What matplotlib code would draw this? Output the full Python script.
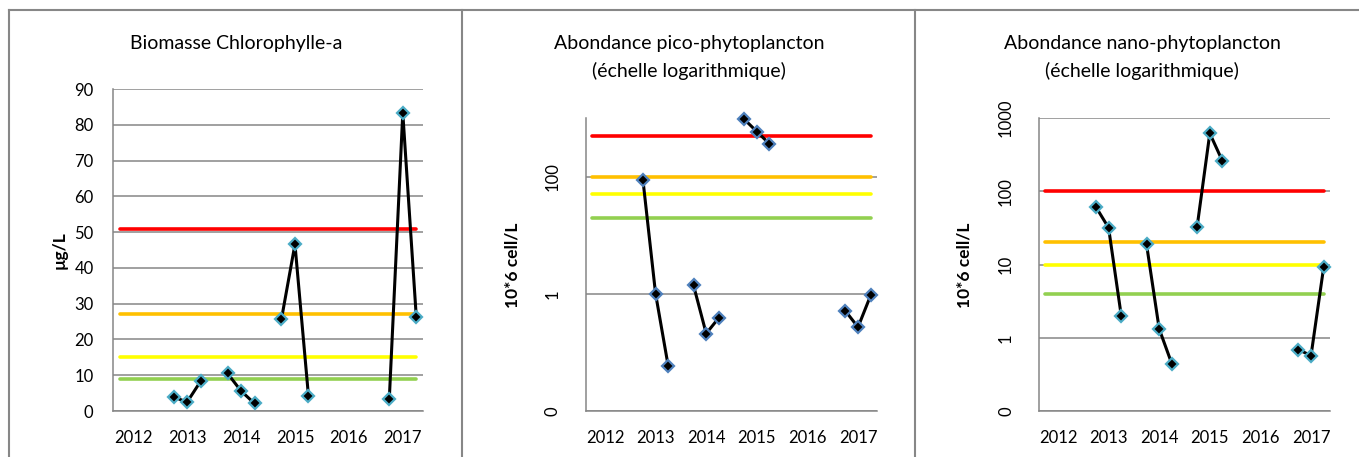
#!/usr/bin/env python
"""
suivi phytoplancton : chlorophylle-a, pico et nano (2012-2017)
"""

import numpy as np
import matplotlib
matplotlib.use('Agg')
import matplotlib.pyplot as plt
from matplotlib.lines import Line2D

nan = np.nan

# categories trimestrielles (fin 2011 -> 2017)
quarters = np.arange(2011.75, 2017.26, 0.25)
years = [2012, 2013, 2014, 2015, 2016, 2017]

chla = [nan, nan, nan, nan, 3.9, 2.5, 8.3, nan, 10.5, 5.6, 2.1, nan,
        25.7, 46.6, 4.3, nan, nan, nan, nan, nan, 3.4, 83.3, 26.4]
pico = [nan, nan, nan, nan, 88, 1.0, 0.058, nan, 1.39, 0.21, 0.39, nan,
        955, 587, 362, nan, nan, nan, nan, nan, 0.51, 0.27, 0.94]
nano = [nan, nan, nan, nan, 61, 31.7, 2.0, nan, 18.8, 1.32, 0.44, nan,
        33, 617, 258, nan, nan, nan, nan, nan, 0.69, 0.57, 9.2]

# seuils (rouge, orange, jaune, vert)
seuil_colors = ['#FF0000', '#FFC000', '#FFFF00', '#92D050']
chla_seuils = [51, 27, 15, 9]
pico_seuils = [500, 100, 50, 20]
nano_seuils = [100, 20, 10, 4]

params = {
        'font.family': ['Lato', 'DejaVu Sans'],
        'font.size': 12,
        'xtick.labelsize': 12,
        'ytick.labelsize': 12,
        }
matplotlib.rcParams.update(params)

W, H = 1359, 457
fig = plt.figure(figsize=(W / 100, H / 100), dpi=100)

def px_axes(left, top, right, bottom):
    return fig.add_axes([left / W, (H - bottom) / H,
                         (right - left) / W, (bottom - top) / H])

grey = '#868686'

def style_axes(ax, values, seuils, edge):
    for val, col in zip(seuils, seuil_colors):
        ax.plot(quarters, [val] * len(quarters), color=col, lw=2.6,
                solid_capstyle='round', zorder=2)
    ax.plot(quarters, values, color='black', lw=2.2, marker='D',
            markersize=6, markerfacecolor='black', markeredgecolor=edge,
            markeredgewidth=1.6, zorder=3, clip_on=False)
    ax.set_xlim(quarters[0] - 0.125, quarters[-1] + 0.125)
    ax.set_xticks(years)
    ax.set_xticklabels([str(y) for y in years])
    for s in ['top', 'right']:
        ax.spines[s].set_visible(False)
    for s in ['left', 'bottom']:
        ax.spines[s].set_color(grey)
        ax.spines[s].set_linewidth(1.1)
    ax.tick_params(length=0)
    ax.tick_params(axis='x', pad=14)
    ax.yaxis.grid(True, color=grey, lw=1.1)
    ax.set_axisbelow(True)

# panneau 1 : chlorophylle
ax1 = px_axes(113, 89, 423, 411)
style_axes(ax1, chla, chla_seuils, '#4BACC6')
ax1.set_ylim(0, 90)
ax1.set_yticks(range(0, 91, 10))
ax1.tick_params(axis='y', pad=14)

# panneau 2 : pico (log)
ax2 = px_axes(586, 118, 877, 411)
style_axes(ax2, pico, pico_seuils, '#4F81BD')
ax2.set_yscale('log')
ax2.set_ylim(0.01, 1000)
ax2.set_yticks([0.01, 1, 100])
ax2.set_yticklabels(['0', '1', '100'], rotation=90, va='center')
ax2.yaxis.set_minor_locator(matplotlib.ticker.NullLocator())
ax2.tick_params(axis='y', pad=18)

# panneau 3 : nano (log)
ax3 = px_axes(1039, 118, 1330, 411)
style_axes(ax3, nano, nano_seuils, '#4BACC6')
ax3.set_yscale('log')
ax3.set_ylim(0.1, 1000)
ax3.set_yticks([0.1, 1, 10, 100, 1000])
ax3.set_yticklabels(['0', '1', '10', '100', '1000'], rotation=90, va='center')
ax3.yaxis.set_minor_locator(matplotlib.ticker.NullLocator())
ax3.tick_params(axis='y', pad=18)

# titres et unites
def ftext(x, y, s, **kw):
    fig.text(x / W, (H - y) / H, s, ha='center', va='center', **kw)

ftext(236, 44, 'Biomasse Chlorophylle-a', fontsize=14)
ftext(689, 44, 'Abondance pico-phytoplancton', fontsize=14)
ftext(689, 71, '(échelle logarithmique)', fontsize=14)
ftext(1142, 44, 'Abondance nano-phytoplancton', fontsize=14)
ftext(1142, 71, '(échelle logarithmique)', fontsize=14)
ftext(60, 250, 'µg/L', fontsize=12.5, fontweight='bold', rotation=90)
ftext(512, 265, '10*6 cell/L', fontsize=12.5, fontweight='bold', rotation=90)
ftext(965, 265, '10*6 cell/L', fontsize=12.5, fontweight='bold', rotation=90)

# cadre
frame = dict(color='#878787', lw=1.5, transform=fig.transFigure)
def fline(x0, y0, x1, y1):
    fig.add_artist(Line2D([x0 / W, x1 / W], [(H - y0) / H, (H - y1) / H],
                          **frame))

fline(9, 10, W, 10)
fline(9, 10, 9, H)
fline(462, 10, 462, H)
fline(915, 10, 915, H)

plt.savefig('out.png', dpi=100)
